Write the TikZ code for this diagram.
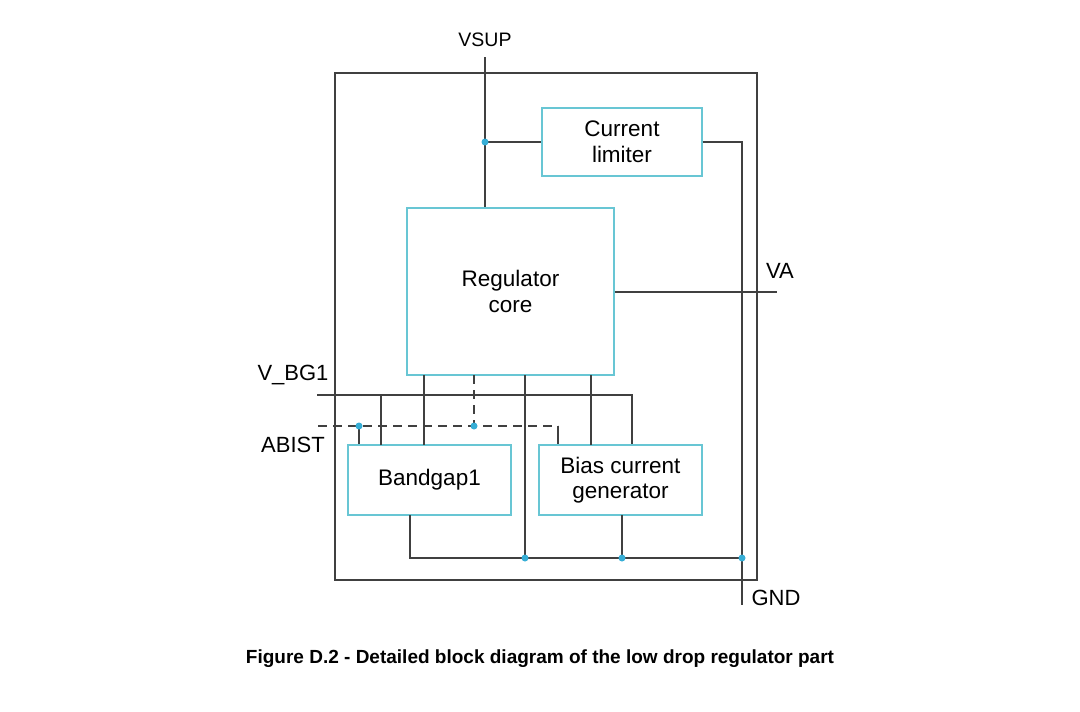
\documentclass[tikz,border=0pt]{standalone}
\usepackage{fontspec}
\setmainfont{Liberation Sans}
\begin{document}
\begin{tikzpicture}[x=1pt,y=-1pt,
  wire/.style={draw=wirec,line width=1.2pt},
  dwire/.style={wire,dash pattern=on 9pt off 6pt},
  blk/.style={draw=boxc,line width=1.2pt,rectangle,align=center,inner sep=0pt,
    font=\fontsize{22.5}{25.5}\selectfont},
  lbl/.style={inner sep=0pt,font=\fontsize{22}{25}\selectfont},
  jdot/.style={circle,fill=dotc,inner sep=0pt,minimum size=7pt}]
\definecolor{wirec}{HTML}{404040}
\definecolor{boxc}{HTML}{68C6D4}
\definecolor{dotc}{HTML}{36AED6}
\useasboundingbox (0,0) rectangle (1080,712);
\fill[white] (0,0) rectangle (1080,712);
% frame
\node[draw=wirec,line width=1.2pt,rectangle,minimum width=422pt,minimum height=507pt,inner sep=0pt] (frame) at (546,326.5) {};
% blocks
\node[blk,minimum width=160pt,minimum height=68pt] (lim) at (622,142) {Current\\limiter};
\node[blk,minimum width=207pt,minimum height=167pt] (reg) at (510.5,291.5) {Regulator\\core};
\node[blk,minimum width=163pt,minimum height=70pt] (bg) at (429.5,480) {Bandgap1};
\node[blk,minimum width=163pt,minimum height=70pt] (bias) at (620.5,480) {Bias current\\generator};
% labels
\node[lbl,font=\fontsize{19.5}{22}\selectfont] (vsup) at (485,40) {VSUP};
\node[lbl] (va) at (780,271) {VA};
\node[lbl] (gnd) at (776,598) {GND};
\node[lbl] (vbg) at (293,375) {V\_BG1};
\node[lbl] (abist) at (293,445) {ABIST};
% coordinates
\coordinate (vtop) at (485,57);
\coordinate (jv) at (485,142);
\coordinate (rlim) at (742,142);
\coordinate (gndend) at (742,605);
\coordinate (vaend) at (777,292);
\coordinate (vbgs) at (317,395);
\coordinate (vbge) at (632,395);
\coordinate (abs) at (318,426);
\coordinate (abe) at (558,426);
\coordinate (ja1) at (359,426);
\coordinate (ja2) at (474,426);
\coordinate (bl) at (410,558);
\coordinate (jb1) at (525,558);
\coordinate (jb2) at (622,558);
\coordinate (jb3) at (742,558);
% wires
\draw[wire] (vtop) -- (vtop |- reg.north);
\draw[wire] (jv) -- (lim.west);
\draw[wire] (lim.east) -- (rlim) -- (gndend);
\draw[wire] (reg.east |- vaend) -- (vaend);
\draw[wire] (vbgs) -- (vbge) -- (vbge |- bias.north);
\draw[wire] (381,395) -- (381,445);
\draw[wire] (424,375) -- (424,445);
\draw[dwire] (474,375) -- (ja2);
\draw[wire] (525,375) -- (jb1);
\draw[wire] (591,375) -- (591,445);
\draw[dwire] (abs) -- (abe);
\draw[wire] (abe) -- (abe |- bias.north);
\draw[wire] (ja1) -- (ja1 |- bg.north);
\draw[wire] (410,515) -- (bl) -- (jb3);
\draw[wire] (622,515) -- (jb2);
% dots
\foreach \p in {jv,ja1,ja2,jb1,jb2,jb3} \node[jdot] at (\p) {};
% caption
\node[inner sep=0pt,font=\bfseries\fontsize{19}{22}\selectfont] (cap) at (540,659) {Figure D.2 - Detailed block diagram of the low drop regulator part};
\end{tikzpicture}
\end{document}
